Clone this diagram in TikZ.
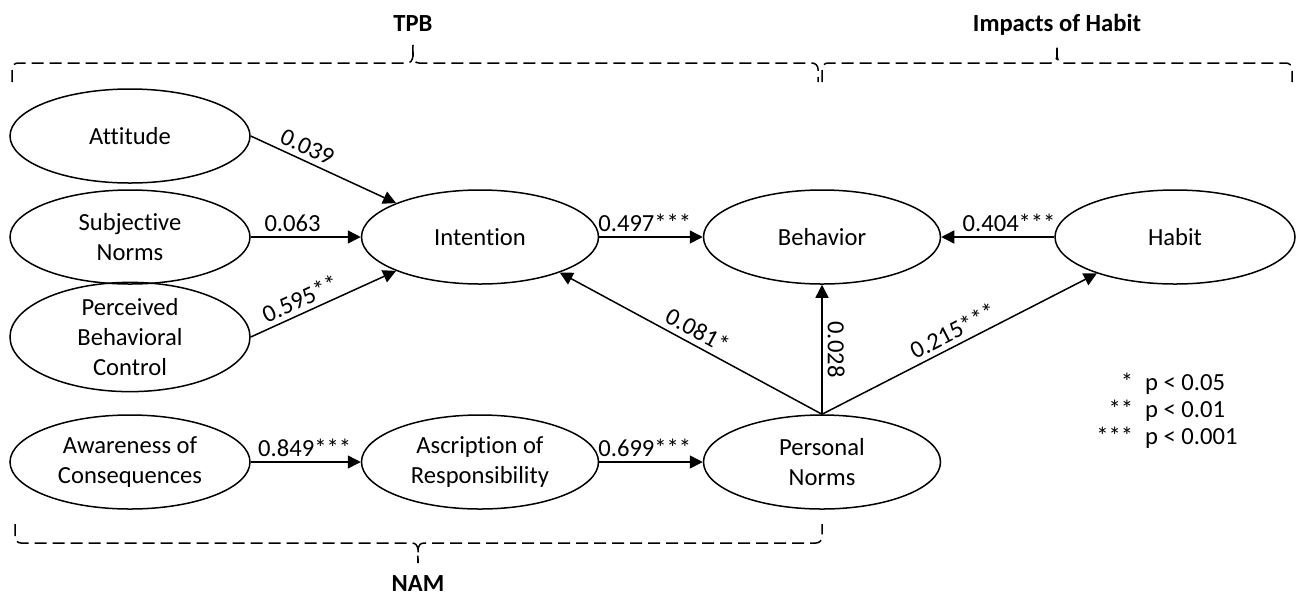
\documentclass[tikz,border=0pt]{standalone}
\usepackage{fontspec}
\setmainfont{Carlito}[Ligatures=NoCommon]
\usetikzlibrary{arrows.meta,shapes.geometric,positioning}
\tikzset{
  latent/.style={
    ellipse,
    draw=black,
    line width=0.75pt,
    minimum width=120pt,
    minimum height=47pt,
    inner sep=0pt,
    align=center
  },
  coef/.style={inner sep=2.5pt},
  grp/.style={font=\fontsize{12.3}{15}\selectfont\bfseries},
  dashbrace/.style={line width=0.75pt,dash pattern=on 6pt off 3pt}
}

\begin{document}
\begin{tikzpicture}[x=0.5pt,y=-0.5pt,
    >={Triangle[length=6.5pt,width=6.5pt]},
    every node/.append style={font=\fontsize{12.3}{15}\selectfont}]
\useasboundingbox (0,0) rectangle (1296,596);

% constructs
\node[latent] (att) at (130,136) {Attitude};
\node[latent] (sn)  at (130,237) {Subjective\\Norms};
\node[latent] (pbc) at (130,337) {Perceived\\Behavioral\\Control};
\node[latent] (ac)  at (130,462) {Awareness of\\Consequences};
\node[latent,minimum width=118.5pt] (int) at (480,237) {Intention};
\node[latent,minimum width=118.5pt] (ar)  at (480,462) {Ascription of\\Responsibility};
\node[latent,minimum width=118.5pt] (beh) at (822,237) {Behavior};
\node[latent,minimum width=118.5pt] (pn)  at (822,462) {Personal\\Norms};
\node[latent] (hab) at (1175,237) {Habit};

% paths
\draw[->,line width=0.75pt] (att.east) -- node[coef,sloped,above,pos=0.35] {0.039} (int.158);
\draw[->,line width=0.75pt] (sn.east) -- node[coef,above,pos=0.38] {0.063} (int.west);
\draw[->,line width=0.75pt] (pbc.east) -- node[coef,sloped,above,pos=0.38] {0.595**} (int.202);
\draw[->,line width=0.75pt] (int.east) -- node[coef,above,pos=0.44] {0.497***} (beh.west);
\draw[->,line width=0.75pt] (hab.west) -- node[coef,above,pos=0.4] {0.404***} (beh.east);
\draw[->,line width=0.75pt] (pn.north) -- node[coef,sloped,above,pos=0.5] {0.081*} (int.-24);
\draw[->,line width=0.75pt] (pn.north) -- node[coef,rotate=-90,anchor=south,pos=0.5] {0.028} (beh.south);
\draw[->,line width=0.75pt] (pn.north) -- node[coef,sloped,above,pos=0.5] {0.215***} (hab.205);
\draw[->,line width=0.75pt] (ac.east) -- node[coef,above,pos=0.49] {0.849***} (ar.west);
\draw[->,line width=0.75pt] (ar.east) -- node[coef,above,pos=0.44] {0.699***} (pn.west);

% groups
\draw[dashbrace] (12,82) -- (12,69) to[out=90,in=180] (18,63) -- (407,63)
  to[out=0,in=-90] (413,45) to[out=-90,in=180] (419,63) -- (812,63)
  to[out=0,in=90] (818,69) -- (818,82);
\node[grp,anchor=base] (tpb) at (413,31) {TPB};

\draw[dashbrace] (822,82) -- (822,69) to[out=90,in=180] (828,63) -- (1051,63)
  to[out=0,in=-90] (1057,45) to[out=-90,in=180] (1063,63) -- (1286,63)
  to[out=0,in=90] (1292,69) -- (1292,82);
\node[grp,anchor=base] (imp) at (1057,31) {Impacts of Habit};

\draw[dashbrace] (15,524) -- (15,537) to[out=-90,in=180] (21,543) -- (412,543)
  to[out=0,in=90] (418,563) to[out=90,in=180] (424,543) -- (816,543)
  to[out=0,in=-90] (822,537) -- (822,524);
\node[grp,anchor=base] (nam) at (418,591) {NAM};

% significance
\node[anchor=east,inner sep=0pt,font=\fontsize{12.3}{13.5}\selectfont] (legend) at (1238,412)
  {\begin{tabular}{@{}r@{\hspace{6pt}}l@{}}
   {*} & p < 0.05\\
   {**} & p < 0.01\\
   {***} & p < 0.001
   \end{tabular}};
\end{tikzpicture}
\end{document}
